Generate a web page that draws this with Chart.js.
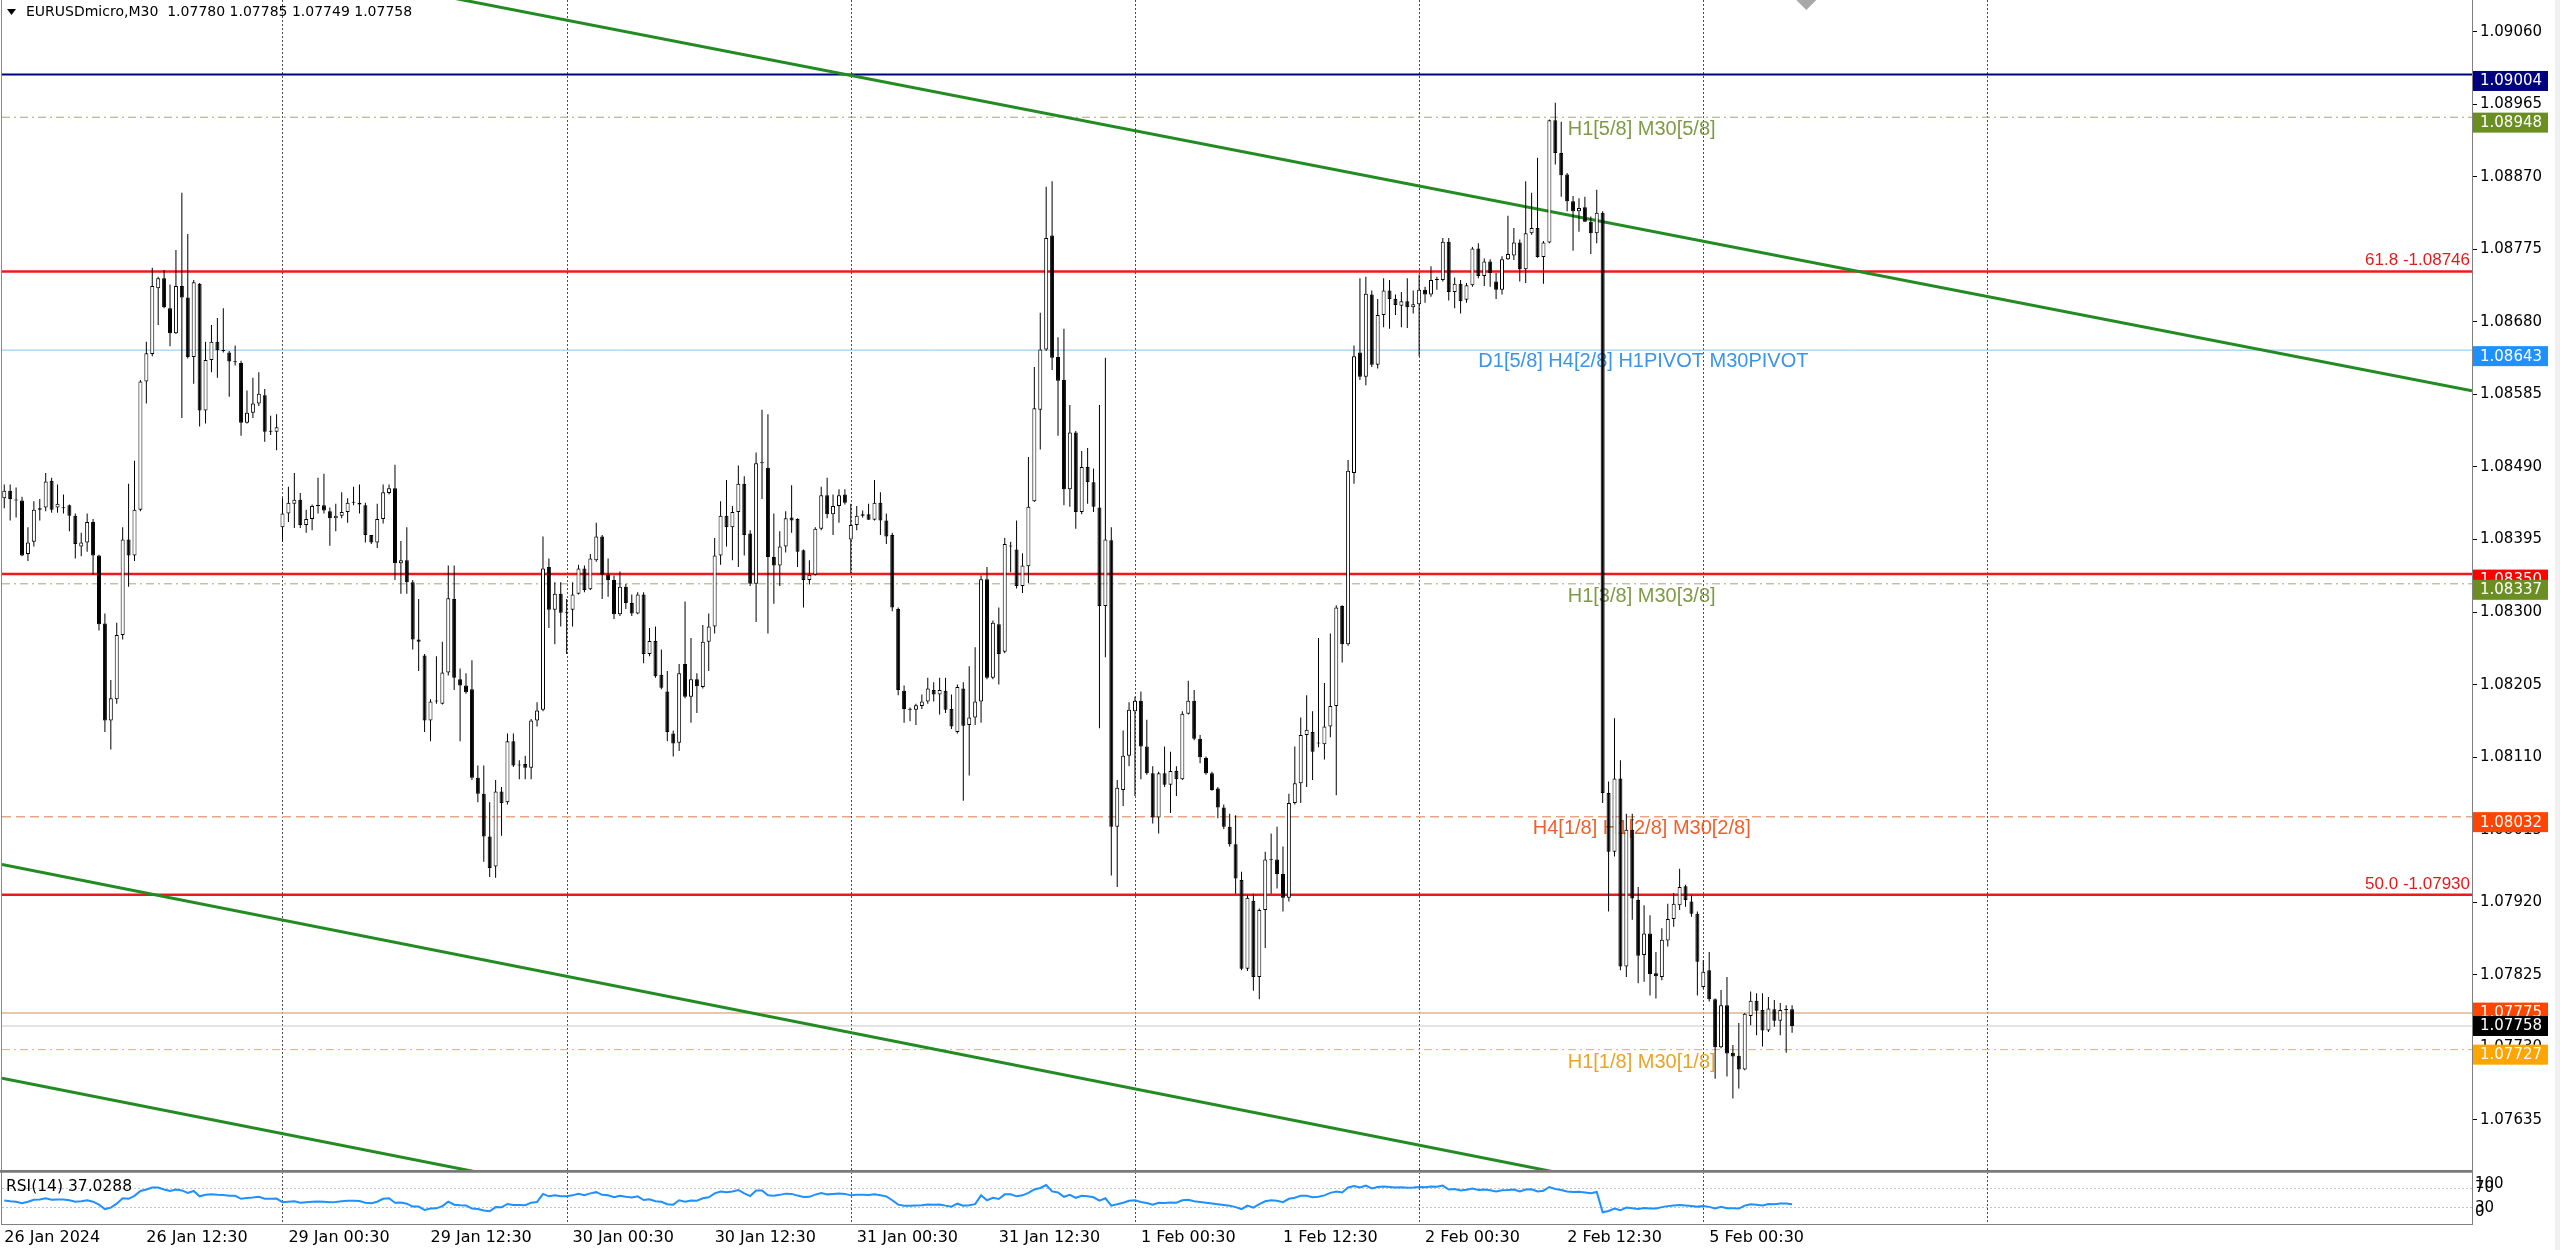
<!DOCTYPE html>
<html>
<head>
<meta charset="utf-8">
<title>EURUSDmicro,M30</title>
<script src="https://cdn.jsdelivr.net/npm/chart.js@4.4.1/dist/chart.umd.min.js"></script>
<style>
  html, body { margin:0; padding:0; background:#ffffff; overflow:hidden; }
  #wrap { position:relative; width:2560px; height:1250px; background:#fff; }
  canvas { position:absolute; left:0; display:block; }
  #mainCanvas { top:0; }
  #rsiCanvas { top:1172px; }
</style>
</head>
<body>
<div id="wrap">
  <canvas id="mainCanvas" width="2560" height="1172"></canvas>
  <canvas id="rsiCanvas" width="2560" height="78"></canvas>
</div>
<script>
// ================= DATA =================
const symbolName = 'EURUSDmicro,M30';

const opens = [
1.08449,1.08459,1.08447,1.08446,1.08376,1.08392,1.08434,1.08437,1.08472,1.08437,
1.08436,1.08440,1.08426,1.08386,1.08391,1.08418,1.08374,1.08285,1.08158,1.08186,
1.08270,1.08395,1.08374,1.08434,1.08602,1.08638,1.08724,1.08737,1.08698,1.08665,
1.08727,1.08712,1.08634,1.08730,1.08564,1.08630,1.08654,1.08643,1.08640,1.08628,
1.08626,1.08548,1.08561,1.08573,1.08584,1.08536,1.08536,1.08411,1.08429,1.08442,
1.08447,1.08414,1.08422,1.08439,1.08440,1.08432,1.08423,1.08426,1.08431,1.08443,
1.08443,1.08440,1.08401,1.08391,1.08422,1.08456,1.08462,1.08364,1.08368,1.08339,
1.08264,1.08243,1.08158,1.08183,1.08180,1.08221,1.08317,1.08212,1.08204,1.08199,
1.08083,1.08062,1.08006,1.07967,1.08065,1.08051,1.08131,1.08099,1.08101,1.08096,
1.08158,1.08172,1.08359,1.08303,1.08324,1.08299,1.08303,1.08324,1.08357,1.08330,
1.08368,1.08399,1.08349,1.08342,1.08297,1.08333,1.08312,1.08298,1.08323,1.08245,
1.08262,1.08218,1.08196,1.08141,1.08129,1.08232,1.08189,1.08212,1.08202,1.08261,
1.08281,1.08374,1.08426,1.08411,1.08431,1.08468,1.08403,1.08337,1.08495,1.08489,
1.08372,1.08361,1.08386,1.08424,1.08422,1.08381,1.08342,1.08349,1.08409,1.08453,
1.08428,1.08439,1.08454,1.08395,1.08414,1.08426,1.08428,1.08421,1.08443,1.08420,
1.08401,1.08304,1.08197,1.08173,1.08172,1.08177,1.08183,1.08198,1.08192,1.08197,
1.08173,1.08143,1.08200,1.08152,1.08162,1.08183,1.08343,1.08214,1.08284,1.08248,
1.08386,1.08382,1.08334,1.08360,1.08445,1.08565,1.08644,1.08793,1.08634,1.08604,
1.08461,1.08535,1.08431,1.08490,1.08470,1.08437,1.08308,1.08394,1.08019,1.08067,
1.08112,1.08170,1.08184,1.08124,1.08089,1.08031,1.08089,1.08074,1.08092,1.08081,
1.08167,1.08184,1.08134,1.08109,1.08089,1.08069,1.08044,1.08019,1.07996,1.07949,
1.07833,1.07922,1.07822,1.07910,1.07975,1.07976,1.07957,1.07926,1.08050,1.08076,
1.08139,1.08143,1.08128,1.08127,1.08150,1.08177,1.08308,1.08258,1.08482,1.08640,
1.08608,1.08716,1.08624,1.08689,1.08721,1.08710,1.08701,1.08707,1.08699,1.08703,
1.08722,1.08716,1.08736,1.08735,1.08785,1.08719,1.08730,1.08709,1.08728,1.08776,
1.08740,1.08759,1.08733,1.08722,1.08762,1.08767,1.08784,1.08749,1.08796,1.08803,
1.08765,1.08784,1.08944,1.08901,1.08873,1.08838,1.08825,1.08830,1.08811,1.08796,
1.08823,1.08063,1.07986,1.08082,1.07836,1.08015,1.07923,1.07851,1.07879,1.07827,
1.07822,1.07870,1.07898,1.07916,1.07941,1.07921,1.07905,1.07809,1.07831,1.07793,
1.07730,1.07785,1.07723,1.07719,1.07701,1.07771,1.07791,1.07779,1.07752,1.07780,
1.07765,1.07779,1.07780];

const highs = [
1.08467,1.08467,1.08463,1.08451,1.08411,1.08445,1.08448,1.08482,1.08476,1.08467,
1.08454,1.08441,1.08429,1.08404,1.08429,1.08422,1.08375,1.08298,1.08211,1.08286,
1.08411,1.08468,1.08498,1.08604,1.08654,1.08751,1.08739,1.08748,1.08729,1.08774,
1.08849,1.08795,1.08735,1.08731,1.08654,1.08676,1.08685,1.08698,1.08642,1.08649,
1.08629,1.08590,1.08607,1.08614,1.08592,1.08557,1.08559,1.08449,1.08464,1.08482,
1.08456,1.08434,1.08441,1.08476,1.08481,1.08437,1.08442,1.08457,1.08449,1.08464,
1.08467,1.08443,1.08401,1.08442,1.08467,1.08467,1.08493,1.08393,1.08411,1.08342,
1.08317,1.08245,1.08186,1.08242,1.08261,1.08361,1.08361,1.08226,1.08220,1.08237,
1.08099,1.08099,1.08051,1.08080,1.08071,1.08141,1.08141,1.08106,1.08112,1.08160,
1.08182,1.08399,1.08370,1.08339,1.08339,1.08317,1.08339,1.08362,1.08361,1.08376,
1.08417,1.08401,1.08370,1.08348,1.08353,1.08337,1.08323,1.08326,1.08326,1.08279,
1.08281,1.08251,1.08223,1.08145,1.08232,1.08314,1.08266,1.08220,1.08283,1.08298,
1.08397,1.08445,1.08473,1.08439,1.08492,1.08478,1.08407,1.08509,1.08565,1.08559,
1.08429,1.08406,1.08432,1.08466,1.08423,1.08382,1.08368,1.08411,1.08464,1.08476,
1.08454,1.08461,1.08461,1.08442,1.08439,1.08433,1.08442,1.08473,1.08457,1.08429,
1.08404,1.08306,1.08204,1.08175,1.08180,1.08192,1.08214,1.08208,1.08214,1.08214,
1.08192,1.08205,1.08208,1.08229,1.08254,1.08348,1.08359,1.08289,1.08306,1.08397,
1.08392,1.08420,1.08377,1.08503,1.08621,1.08692,1.08857,1.08864,1.08660,1.08671,
1.08571,1.08537,1.08511,1.08515,1.08488,1.08571,1.08633,1.08411,1.08080,1.08145,
1.08182,1.08189,1.08196,1.08159,1.08098,1.08091,1.08124,1.08117,1.08098,1.08170,
1.08210,1.08198,1.08139,1.08111,1.08091,1.08071,1.08048,1.08036,1.08034,1.07960,
1.07930,1.07931,1.07912,1.07986,1.08010,1.08019,1.07993,1.08062,1.08124,1.08162,
1.08191,1.08170,1.08266,1.08207,1.08272,1.08309,1.08309,1.08499,1.08649,1.08737,
1.08739,1.08721,1.08710,1.08737,1.08735,1.08716,1.08719,1.08737,1.08721,1.08742,
1.08726,1.08753,1.08739,1.08790,1.08790,1.08738,1.08735,1.08731,1.08778,1.08783,
1.08763,1.08762,1.08744,1.08766,1.08819,1.08803,1.08788,1.08864,1.08849,1.08895,
1.08786,1.08945,1.08967,1.08942,1.08875,1.08845,1.08842,1.08844,1.08818,1.08853,
1.08825,1.08078,1.08161,1.08106,1.08036,1.08036,1.07940,1.07916,1.07903,1.07855,
1.07886,1.07918,1.07932,1.07964,1.07943,1.07929,1.07908,1.07844,1.07855,1.07794,
1.07805,1.07822,1.07733,1.07762,1.07775,1.07803,1.07801,1.07801,1.07796,1.07792,
1.07788,1.07785,1.07785];

const lows = [
1.08436,1.08420,1.08424,1.08373,1.08367,1.08386,1.08420,1.08432,1.08430,1.08430,
1.08429,1.08406,1.08370,1.08373,1.08379,1.08349,1.08276,1.08143,1.08120,1.08180,
1.08264,1.08333,1.08367,1.08432,1.08573,1.08635,1.08676,1.08698,1.08648,1.08664,
1.08554,1.08632,1.08599,1.08543,1.08547,1.08614,1.08607,1.08640,1.08582,1.08623,
1.08531,1.08547,1.08554,1.08570,1.08523,1.08532,1.08512,1.08392,1.08418,1.08410,
1.08410,1.08404,1.08407,1.08429,1.08429,1.08387,1.08406,1.08423,1.08417,1.08440,
1.08429,1.08391,1.08389,1.08384,1.08416,1.08454,1.08342,1.08324,1.08324,1.08251,
1.08223,1.08143,1.08131,1.08180,1.08179,1.08217,1.08198,1.08131,1.08193,1.08080,
1.08051,1.07973,1.07953,1.07952,1.08007,1.08048,1.08097,1.08081,1.08081,1.08081,
1.08150,1.08170,1.08279,1.08258,1.08281,1.08245,1.08281,1.08323,1.08326,1.08329,
1.08366,1.08317,1.08320,1.08291,1.08295,1.08304,1.08295,1.08297,1.08233,1.08242,
1.08214,1.08199,1.08131,1.08111,1.08118,1.08187,1.08155,1.08168,1.08200,1.08223,
1.08272,1.08362,1.08386,1.08368,1.08359,1.08374,1.08334,1.08287,1.08448,1.08272,
1.08311,1.08334,1.08378,1.08404,1.08359,1.08306,1.08336,1.08348,1.08407,1.08423,
1.08401,1.08417,1.08441,1.08351,1.08407,1.08424,1.08421,1.08420,1.08401,1.08389,
1.08301,1.08191,1.08155,1.08157,1.08152,1.08173,1.08180,1.08183,1.08166,1.08168,
1.08147,1.08141,1.08053,1.08086,1.08152,1.08155,1.08212,1.08212,1.08205,1.08246,
1.08352,1.08331,1.08325,1.08338,1.08444,1.08513,1.08642,1.08617,1.08531,1.08440,
1.08438,1.08409,1.08428,1.08442,1.08431,1.08148,1.08241,1.07955,1.07940,1.08046,
1.08098,1.08059,1.08081,1.08087,1.08023,1.08010,1.08071,1.08037,1.08059,1.08080,
1.08166,1.08132,1.08102,1.08087,1.08066,1.08030,1.08016,1.07993,1.07931,1.07831,
1.07830,1.07804,1.07793,1.07860,1.07931,1.07938,1.07908,1.07921,1.08048,1.08050,
1.08071,1.08080,1.08123,1.08107,1.08136,1.08060,1.08234,1.08256,1.08468,1.08604,
1.08597,1.08621,1.08619,1.08673,1.08671,1.08689,1.08673,1.08672,1.08691,1.08635,
1.08705,1.08713,1.08722,1.08733,1.08708,1.08698,1.08691,1.08705,1.08726,1.08737,
1.08727,1.08726,1.08710,1.08716,1.08761,1.08761,1.08733,1.08731,1.08794,1.08764,
1.08730,1.08783,1.08886,1.08844,1.08825,1.08773,1.08798,1.08811,1.08769,1.08783,
1.08050,1.07908,1.07980,1.07831,1.07822,1.07897,1.07814,1.07816,1.07798,1.07794,
1.07818,1.07862,1.07888,1.07910,1.07914,1.07901,1.07798,1.07807,1.07790,1.07689,
1.07729,1.07692,1.07663,1.07676,1.07700,1.07759,1.07746,1.07731,1.07750,1.07757,
1.07746,1.07723,1.07749];

const closes = [
1.08459,1.08448,1.08446,1.08374,1.08391,1.08434,1.08436,1.08471,1.08434,1.08442,
1.08437,1.08426,1.08389,1.08391,1.08418,1.08374,1.08284,1.08158,1.08187,1.08270,
1.08395,1.08374,1.08434,1.08602,1.08639,1.08727,1.08737,1.08699,1.08665,1.08727,
1.08712,1.08634,1.08732,1.08564,1.08630,1.08654,1.08643,1.08642,1.08628,1.08627,
1.08548,1.08561,1.08573,1.08586,1.08536,1.08537,1.08542,1.08429,1.08443,1.08447,
1.08414,1.08422,1.08439,1.08440,1.08433,1.08423,1.08426,1.08431,1.08443,1.08443,
1.08441,1.08401,1.08391,1.08422,1.08457,1.08462,1.08364,1.08368,1.08339,1.08264,
1.08261,1.08158,1.08183,1.08184,1.08221,1.08318,1.08214,1.08204,1.08195,1.08083,
1.08062,1.08006,1.07965,1.08065,1.08050,1.08131,1.08099,1.08100,1.08096,1.08158,
1.08171,1.08357,1.08303,1.08324,1.08299,1.08300,1.08323,1.08357,1.08329,1.08370,
1.08399,1.08349,1.08342,1.08297,1.08333,1.08312,1.08298,1.08323,1.08245,1.08262,
1.08216,1.08201,1.08143,1.08128,1.08220,1.08189,1.08212,1.08203,1.08261,1.08281,
1.08374,1.08426,1.08411,1.08431,1.08468,1.08401,1.08337,1.08495,1.08496,1.08372,
1.08361,1.08386,1.08423,1.08420,1.08379,1.08342,1.08349,1.08409,1.08453,1.08428,
1.08439,1.08453,1.08443,1.08414,1.08426,1.08428,1.08421,1.08443,1.08420,1.08399,
1.08306,1.08198,1.08173,1.08172,1.08178,1.08183,1.08200,1.08192,1.08198,1.08172,
1.08150,1.08202,1.08151,1.08162,1.08183,1.08343,1.08214,1.08286,1.08245,1.08389,
1.08387,1.08334,1.08361,1.08438,1.08567,1.08644,1.08790,1.08633,1.08603,1.08461,
1.08535,1.08431,1.08490,1.08470,1.08438,1.08308,1.08395,1.08019,1.08070,1.08112,
1.08172,1.08184,1.08124,1.08089,1.08031,1.08089,1.08074,1.08092,1.08081,1.08167,
1.08184,1.08134,1.08110,1.08089,1.08067,1.08044,1.08019,1.07996,1.07951,1.07833,
1.07926,1.07822,1.07910,1.07976,1.07976,1.07957,1.07926,1.08050,1.08076,1.08139,
1.08146,1.08117,1.08129,1.08150,1.08177,1.08306,1.08258,1.08485,1.08635,1.08608,
1.08717,1.08624,1.08689,1.08721,1.08710,1.08702,1.08707,1.08699,1.08703,1.08722,
1.08716,1.08735,1.08735,1.08785,1.08719,1.08730,1.08707,1.08728,1.08776,1.08740,
1.08759,1.08744,1.08722,1.08762,1.08769,1.08784,1.08749,1.08796,1.08803,1.08765,
1.08784,1.08944,1.08901,1.08872,1.08838,1.08825,1.08829,1.08811,1.08796,1.08823,
1.08063,1.07986,1.08082,1.07836,1.08015,1.07925,1.07850,1.07879,1.07826,1.07823,
1.07871,1.07898,1.07918,1.07940,1.07923,1.07905,1.07842,1.07829,1.07793,1.07730,
1.07785,1.07722,1.07718,1.07701,1.07774,1.07791,1.07778,1.07752,1.07781,1.07765,
1.07779,1.07780,1.07758];

const rsiValues = [
44.5,43,42,39,42,46,46.5,49,46,46.5,
46.5,45,42,43,45,42,36,27,30,38,
49,48,54,64,67,71,71,67,64,67,
65,60,64,53,56,57,56,55.5,54,54,
48,49.5,50.5,52,48,48,48.5,41,42,43,
40,41,42,42.5,42,41,41.5,43,44,44,
43.5,40,39,42,48,49,40,40.5,38,32,
32,25,28,28.5,33,42,36,35,34.5,28,
27,24,22.5,31,30.5,37.5,35.5,35.5,35,40,
41.5,58,53,55,53,53,55,58,55.5,59,
61.5,56,55,51,54,52,50.5,53,45.5,47,
43,42,37,36,45,42,44.5,44,49,51,
59,63,61.5,63,66,59,53.5,65,65,55,
54,56,58.5,58,54.5,51.5,52,56.5,59.5,57,
58,59,58,55,56,56,55.5,57,55,53,
45,36,34,34,34.5,35,36.5,36,36.5,34,
32,38,34,35,37,55,45,50,47.5,57,
57,53,55,60,67,70,76,63,61,52,
56,50,54,53,51,44,49,34,37,40,
44,45,41.5,39.5,36,40,39.5,40.5,40,45,
46,43,41.5,40,38.5,37,35.5,34,31,27,
34,30,37,43,45,44,41,48,50,54,
54,51,52,55,60,63,61,71,74,71,
75,69,72,73,72,71,71.5,70.5,71,72,
71.5,73,72.5,75,67,68,65,66.5,69,66,
67,65.5,63,65.5,66,67,63,67,67.5,63,
64.5,72,68,66,63,62,62.5,61,59.5,62,
20.5,23,28,24.5,30,28.5,27,29,28,28,
31,33,34.5,35.5,34.5,33.5,32,33,31.5,28,
31.5,28.5,28.5,28,34,37,36,34.5,37.5,37,
38.5,38.5,37.0288];

const priceTicks = [1.09060,1.08965,1.08870,1.08775,1.08680,1.08585,1.08490,1.08395,
                    1.08300,1.08205,1.08110,1.08015,1.07920,1.07825,1.07730,1.07635];
const dateLabels = ['26 Jan 2024','26 Jan 12:30','29 Jan 00:30','29 Jan 12:30','30 Jan 00:30',
                    '30 Jan 12:30','31 Jan 00:30','31 Jan 12:30','1 Feb 00:30','1 Feb 12:30',
                    '2 Feb 00:30','2 Feb 12:30','5 Feb 00:30'];
const dateLabelBars = [0,24,48,72,96,120,144,168,192,216,240,264,288];
const dayStartBars = [47,95,143,191,239,287,335];

const levelPrices = [1.09004,1.08948,1.08746,1.08643,1.08350,1.08337,1.08032,1.07930,1.07775,1.07758,1.07727];
const noteTexts = ['H1[5/8] M30[5/8]','61.8 -1.08746','D1[5/8] H4[2/8] H1PIVOT M30PIVOT',
                   'H1[3/8] M30[3/8]','H4[1/8] H1[2/8] M30[2/8]','50.0 -1.07930','H1[1/8] M30[1/8]'];
// trend line anchors: [bar1, price1, bar2, price2]
const trendAnchors = [[235,1.08864,415.4,1.08592],[0,1.07969,261.1,1.07568],[0,1.07689,79,1.07568]];
const rsiLevels = [30,70];
const rsiAxisLabels = [100,70,30,0];

// ================= STYLE / LAYOUT =================
const X_MIN = -0.382, X_MAX = 416.85;
const Y_MIN = 1.075681, Y_MAX = 1.091015;
const AX = '"DejaVu Sans", sans-serif';
const ARIAL = '"Liberation Sans", Arial, sans-serif';
const DASHDOT = [8,4,2,4];
const levelStyles = [
  {color:'#000080', width:2,   dash:[],      box:'#000080', boxOff:-3.5},
  {color:'#a6a47c', width:1,   dash:DASHDOT, box:'#6B8E23', boxOff:-4.6},
  {color:'#ee1a1a', width:2.5, dash:[],      box:null},
  {color:'#8cc4e8', width:1,   dash:[],      box:'#1E90FF', boxOff:-4},
  {color:'#ee1a1a', width:2.5, dash:[],      box:'#FF0000', boxOff:-4.3},
  {color:'#a6a47c', width:1,   dash:DASHDOT, box:'#6B8E23', boxOff:-4},
  {color:'#e9a585', width:1.5, dash:[9,5],   box:'#FF4500', boxOff:-4.6},
  {color:'#ee1a1a', width:2.5, dash:[],      box:null},
  {color:'#ddb48f', width:1.5, dash:[],      box:'#FF4500', boxOff:-10.4},
  {color:'#c8c8c8', width:1,   dash:[],      box:'#000000', boxOff:-10},
  {color:'#e3b450', width:1,   dash:DASHDOT, box:'#FFA500', boxOff:-5}
];
const noteStyles = [
  {level:1,  k:264.1, dy:12.5, size:20, color:'#7f9a45'},
  {level:2,  right:true, dy:-11, size:17, color:'#e01b1b'},
  {level:3,  k:249.0, dy:11.7, size:20, color:'#3a95e6'},
  {level:5,  k:264.1, dy:12.7, size:20, color:'#7f9a45'},
  {level:6,  k:258.2, dy:12,   size:20, color:'#f0602e'},
  {level:7,  right:true, dy:-10, size:17, color:'#e01b1b'},
  {level:10, k:264.1, dy:12.7, size:20, color:'#e8a528'}
];
const trendColor = '#228B22';
const shiftMarkerBar = 304.4;
const rsiLabelY = [12, 16, 36, 40];

// ================= HELPERS =================
function extendLine(a) {
  const m = (a[3] - a[1]) / (a[2] - a[0]);
  return [{x:X_MIN, y:a[1] + (X_MIN - a[0]) * m}, {x:X_MAX, y:a[1] + (X_MAX - a[0]) * m}];
}
function drawDayLines(chart, top, bottom) {
  const xs = chart.scales.x, ctx = chart.ctx, ca = chart.chartArea;
  ctx.save();
  ctx.strokeStyle = '#4a4a4a'; ctx.lineWidth = 1; ctx.setLineDash([2,2]);
  dayStartBars.forEach(k => {
    const px = Math.round(xs.getPixelForValue(k)) + 0.5;
    if (px < ca.left || px > ca.right) return;
    ctx.beginPath(); ctx.moveTo(px, top); ctx.lineTo(px, bottom); ctx.stroke();
  });
  ctx.restore();
}
function noPad(s) { s.paddingTop = 0; s.paddingBottom = 0; s.paddingLeft = 0; s.paddingRight = 0; }

// ================= MAIN CHART =================
const bodyData = opens.map((o, i) => ({x:i, y:[o, closes[i]]}));
const wickData = lows.map((l, i) => ({x:i, y:[l, highs[i]]}));
const bodyColors = opens.map((o, i) => closes[i] >= o ? '#ffffff' : '#000000');

const datasets = [
  {type:'bar', data:bodyData, backgroundColor:bodyColors, borderColor:'#000', borderWidth:1,
   borderSkipped:false, barThickness:4, minBarLength:1, grouped:false, inflateAmount:0, order:0},
  {type:'bar', data:wickData, backgroundColor:'#000', borderWidth:0, barThickness:1,
   grouped:false, inflateAmount:0, order:1}
];
trendAnchors.forEach(a => datasets.push({type:'line', data:extendLine(a), borderColor:trendColor,
  borderWidth:3, pointRadius:0, tension:0, order:2}));
levelPrices.forEach((p, i) => {
  const st = levelStyles[i];
  datasets.push({type:'line', data:[{x:X_MIN, y:p}, {x:X_MAX, y:p}], borderColor:st.color,
    borderWidth:st.width, borderDash:st.dash, pointRadius:0, tension:0, order:3});
});

const mainOverlay = {
  id:'mainOverlay',
  beforeDatasetsDraw(chart) {
    const ca = chart.chartArea;
    drawDayLines(chart, ca.top, ca.bottom);
    const ctx = chart.ctx, xs = chart.scales.x, ys = chart.scales.y;
    ctx.save();
    ctx.textBaseline = 'middle';
    noteTexts.forEach((t, i) => {
      const st = noteStyles[i];
      const py = ys.getPixelForValue(levelPrices[st.level]) + st.dy;
      ctx.font = st.size + 'px ' + ARIAL;
      ctx.fillStyle = st.color;
      if (st.right) { ctx.textAlign = 'right'; ctx.fillText(t, ca.right - 2, py); }
      else { ctx.textAlign = 'left'; ctx.fillText(t, xs.getPixelForValue(st.k), py); }
    });
    ctx.restore();
  },
  afterDraw(chart) {
    const ctx = chart.ctx, ca = chart.chartArea, ys = chart.scales.y, xs = chart.scales.x;
    ctx.save();
    ctx.fillStyle = '#8a8a8a'; ctx.fillRect(1, 0, 1, chart.height);
    ctx.fillStyle = '#7a7a7a'; ctx.fillRect(0, 1170, ca.right + 1, 2);
    ctx.fillStyle = '#f0f0f0'; ctx.fillRect(2555, 0, 5, chart.height);
    ctx.font = '15px ' + AX; ctx.textBaseline = 'middle'; ctx.textAlign = 'left';
    levelPrices.forEach((p, i) => {
      const st = levelStyles[i];
      if (!st.box) return;
      const top = ys.getPixelForValue(p) + st.boxOff;
      ctx.fillStyle = st.box; ctx.fillRect(ca.right + 1, top, 75, 20);
      ctx.fillStyle = '#ffffff'; ctx.fillText(p.toFixed(5), ca.right + 8, top + 10.5);
    });
    const sx = xs.getPixelForValue(shiftMarkerBar);
    ctx.fillStyle = '#a8a8a8';
    ctx.beginPath(); ctx.moveTo(sx - 10, 0); ctx.lineTo(sx + 10, 0); ctx.lineTo(sx, 10); ctx.closePath(); ctx.fill();
    ctx.fillStyle = '#000';
    ctx.beginPath(); ctx.moveTo(7, 9); ctx.lineTo(16, 9); ctx.lineTo(11.5, 15); ctx.closePath(); ctx.fill();
    const n = closes.length - 1;
    ctx.font = '14px ' + AX; ctx.textAlign = 'left'; ctx.textBaseline = 'middle';
    ctx.fillText(symbolName + '  ' + [opens[n], highs[n], lows[n], closes[n]].map(v => v.toFixed(5)).join(' '), 26, 12.7);
    ctx.restore();
  }
};

new Chart(document.getElementById('mainCanvas'), {
  type:'bar',
  data:{datasets},
  options:{
    responsive:false, animation:false, devicePixelRatio:1, events:[],
    layout:{padding:{left:2, top:0, right:0, bottom:1}},
    plugins:{legend:{display:false}, tooltip:{enabled:false}},
    scales:{
      x:{type:'linear', min:X_MIN, max:X_MAX, display:false, offset:false},
      y:{type:'linear', position:'right', min:Y_MIN, max:Y_MAX,
         afterFit(s){ s.width = 88; noPad(s); },
         afterBuildTicks(s){ s.ticks = priceTicks.map(v => ({value:v})); },
         ticks:{autoSkip:false, padding:3, color:'#000', font:{family:AX, size:15},
                callback:(v) => Number(v).toFixed(5)},
         grid:{drawOnChartArea:false, drawTicks:true, tickLength:5, color:'#000'},
         border:{display:true, color:'#808080', width:1}}
    }
  },
  plugins:[mainOverlay]
});

// ================= RSI CHART =================
const rsiOverlay = {
  id:'rsiOverlay',
  beforeDatasetsDraw(chart) { drawDayLines(chart, 0, 52); },
  afterDraw(chart) {
    const ctx = chart.ctx, ca = chart.chartArea;
    ctx.save();
    ctx.fillStyle = '#9a9a9a'; ctx.fillRect(0, 0, ca.right + 1, 1);
    ctx.fillStyle = '#808080';
    ctx.fillRect(1, 52, ca.right, 1);
    ctx.fillRect(1, 0, 1, 53);
    ctx.fillRect(Math.round(ca.right), 0, 1, 53);
    ctx.fillStyle = '#f0f0f0'; ctx.fillRect(2555, 0, 5, chart.height);
    ctx.fillStyle = '#000'; ctx.textBaseline = 'middle'; ctx.textAlign = 'left';
    ctx.font = '15.5px ' + AX;
    ctx.fillText('RSI(14) ' + rsiValues[rsiValues.length - 1].toFixed(4), 6, 14.7);
    ctx.font = '15px ' + AX;
    rsiAxisLabels.forEach((v, i) => ctx.fillText(String(v), ca.right + 3, rsiLabelY[i]));
    ctx.restore();
  }
};

new Chart(document.getElementById('rsiCanvas'), {
  type:'line',
  data:{datasets:[{data:rsiValues.map((v, i) => ({x:i, y:v})), borderColor:'#1E90FF',
                   borderWidth:2, pointRadius:0, tension:0}]},
  options:{
    responsive:false, animation:false, devicePixelRatio:1, events:[],
    layout:{padding:{left:2, top:1.3, right:0, bottom:0}},
    plugins:{legend:{display:false}, tooltip:{enabled:false}},
    scales:{
      x:{type:'linear', min:X_MIN, max:X_MAX, position:'bottom', offset:false,
         afterFit(s){ s.height = 27.7; noPad(s); },
         afterBuildTicks(s){ s.ticks = dateLabelBars.map(v => ({value:v})); },
         ticks:{autoSkip:false, maxRotation:0, minRotation:0, align:'start', padding:6,
                color:'#000', font:{family:AX, size:16},
                callback:(v, i) => dateLabels[i]},
         grid:{display:false, drawTicks:false},
         border:{display:false}},
      y:{type:'linear', position:'right', min:0, max:100,
         afterFit(s){ s.width = 88; noPad(s); },
         afterBuildTicks(s){ s.ticks = rsiLevels.map(v => ({value:v})); },
         ticks:{display:false},
         grid:{color:'#c4c4c4', drawTicks:false, lineWidth:1},
         border:{display:false, dash:[2,2]}}
    }
  },
  plugins:[rsiOverlay]
});
</script>
</body>
</html>
